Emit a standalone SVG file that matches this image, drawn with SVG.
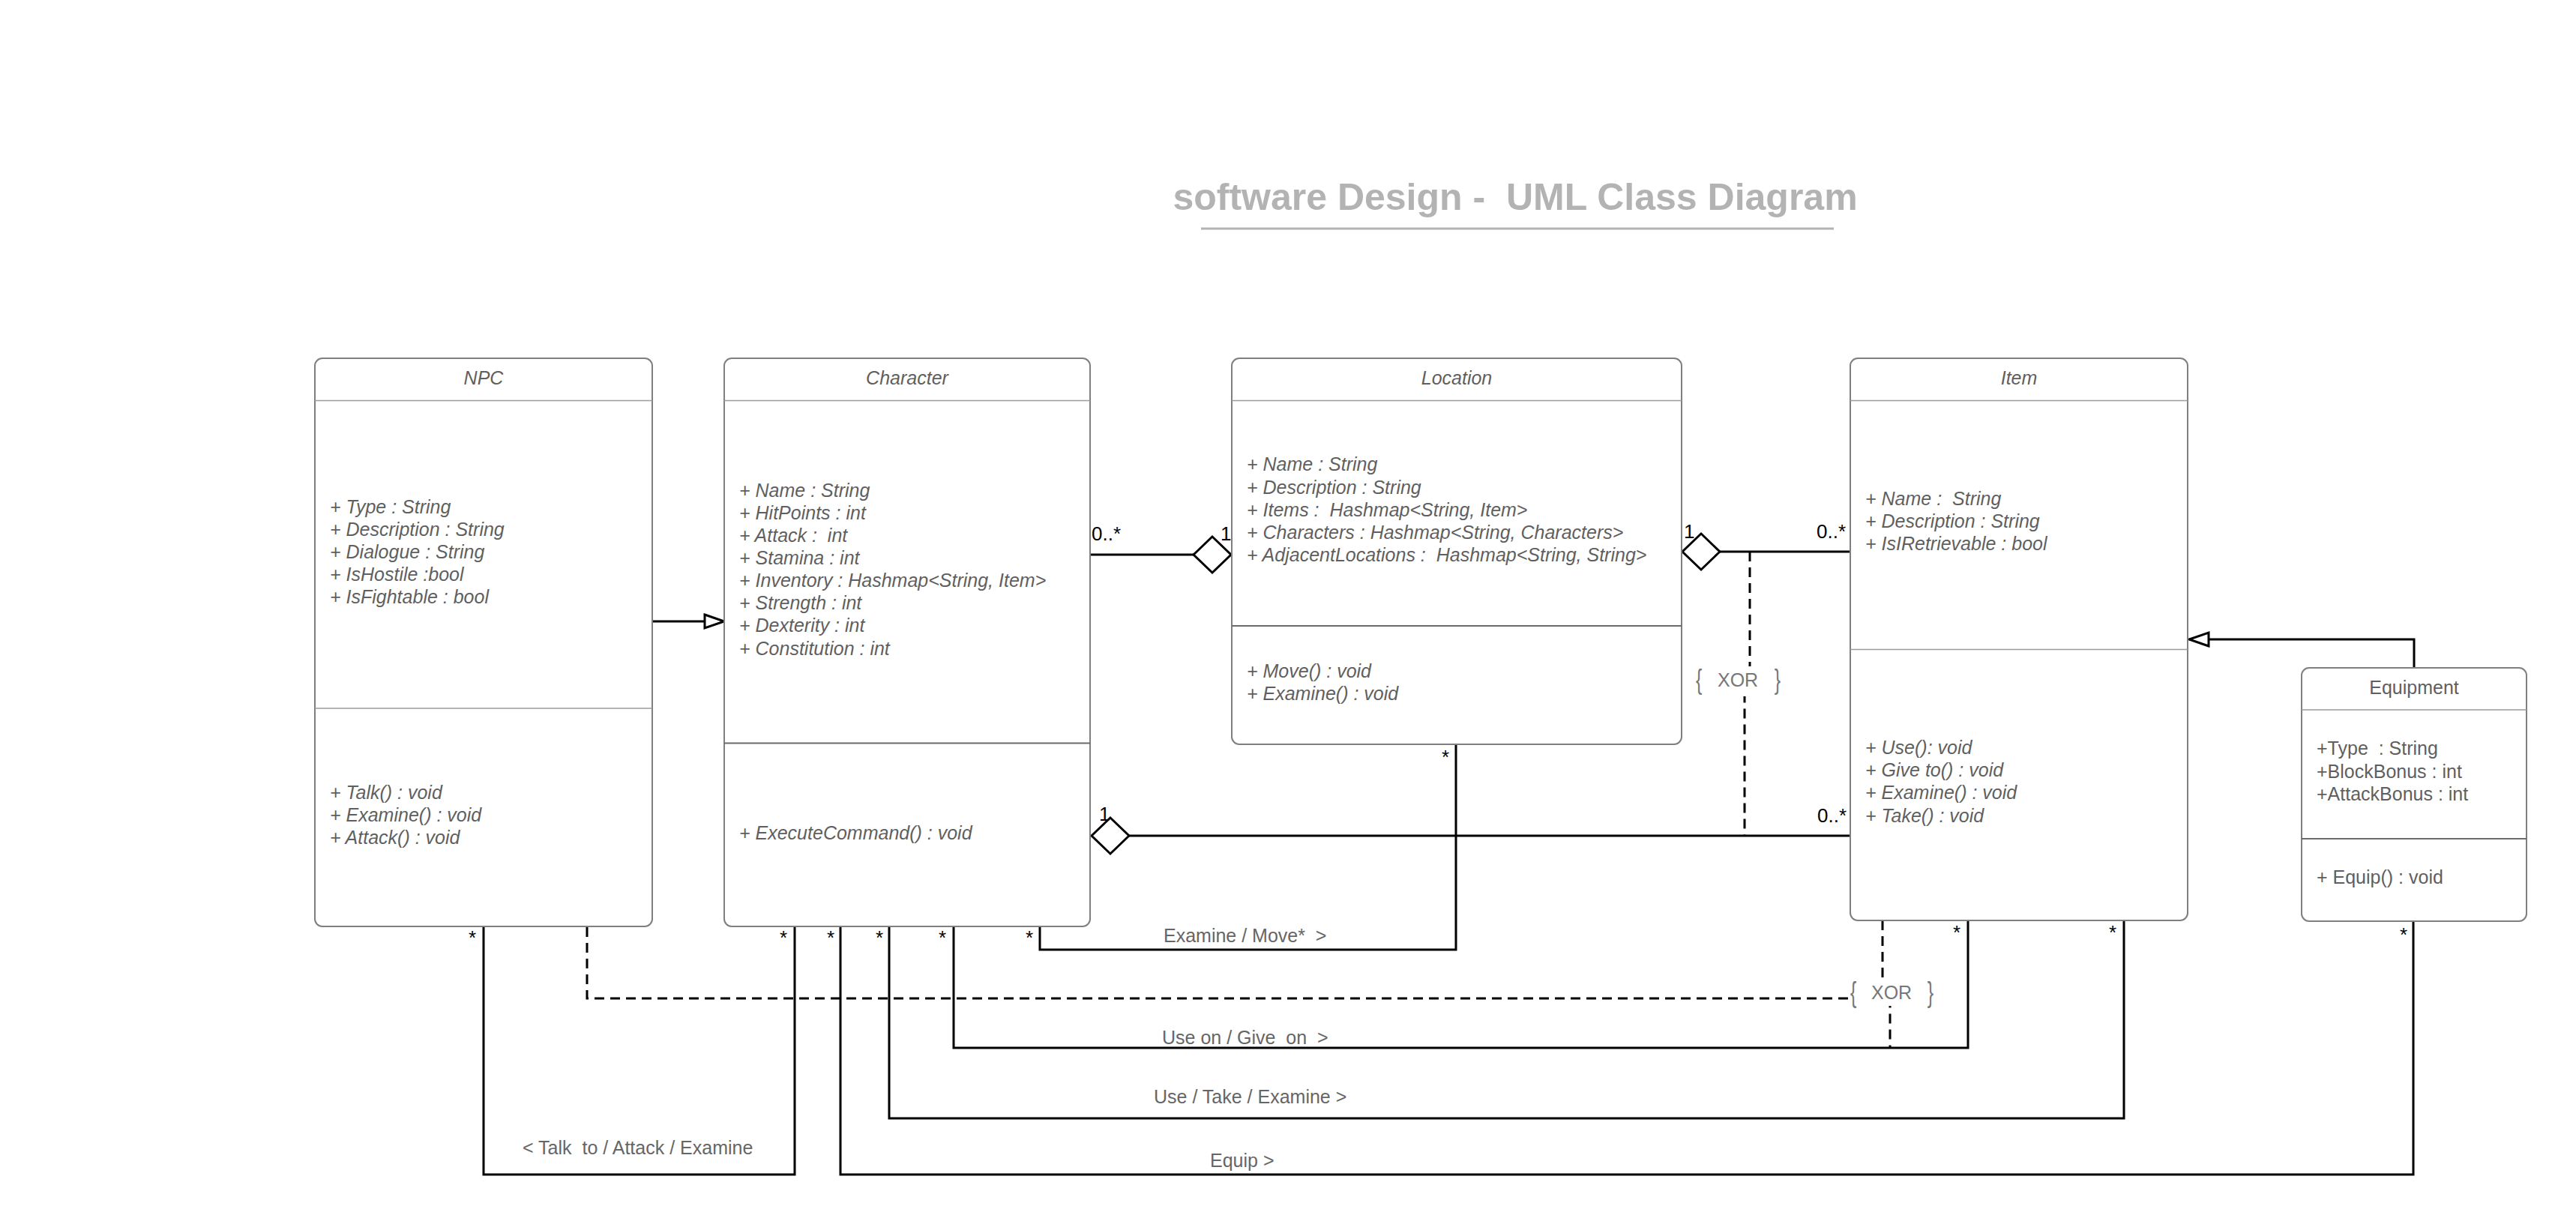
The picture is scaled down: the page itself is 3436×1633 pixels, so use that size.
<svg xmlns="http://www.w3.org/2000/svg" width="3436" height="1633" viewBox="0 0 3436 1633">
<style>
text{font-family:"Liberation Sans",Arial,sans-serif;white-space:pre}
.box{fill:#fff;stroke:#7f7f7f;stroke-width:2}
.d1{stroke:#9a9a9a;stroke-width:1.3}
.d2{stroke:#6a6a6a;stroke-width:2.2}
.t{font-size:25px;fill:#5f5f5f}
.i{font-style:italic}
.hd{text-anchor:middle}
.conn{fill:none;stroke:#000;stroke-width:3}
.dash{stroke-dasharray:13 8}
.m{font-size:26px;fill:#000}
.lbl{font-size:25px;fill:#666}
.xor{font-size:25px;fill:#777}
.title{font-size:50px;font-weight:bold;fill:#b3b3b3;text-anchor:middle}
</style>
<defs>
<marker id="gen" viewBox="0 0 26 18" refX="26" refY="9" markerWidth="26" markerHeight="18" markerUnits="userSpaceOnUse" orient="auto" overflow="visible">
<path d="M0,0 L26,9 L0,18 Z" fill="#fff" stroke="#000" stroke-width="3"/>
</marker>
<marker id="agg" viewBox="0 0 50 48" refX="50" refY="24" markerWidth="50" markerHeight="48" markerUnits="userSpaceOnUse" orient="auto" overflow="visible">
<path d="M0,24 L25,0 L50,24 L25,48 Z" fill="#fff" stroke="#000" stroke-width="3"/>
</marker>
</defs>
<rect width="3436" height="1633" fill="#fff"/>

<g id="title">
<text class="title" x="2021" y="280">software Design -  UML Class Diagram</text>
<line x1="1602" y1="305" x2="2446" y2="305" stroke="#b3b3b3" stroke-width="3"/>
</g>

<g id="connectors">
<path class="conn" d="M870,829 L966,829" marker-end="url(#gen)"/>
<path class="conn" d="M3220,891 L3220,853 L2920,853" marker-end="url(#gen)"/>
<path class="conn" d="M1454,740 L1642,740" marker-end="url(#agg)"/>
<path class="conn" d="M2468,736 L2244,736" marker-end="url(#agg)"/>
<path class="conn" d="M2468,1115 L1456,1115" marker-end="url(#agg)"/>
<path class="conn" d="M1942,993 L1942,1267 L1387,1267 L1387,1237"/>
<path class="conn" d="M645,1237 L645,1567 L1060,1567 L1060,1237"/>
<path class="conn" d="M1121,1237 L1121,1567 L3219,1567 L3219,1229"/>
<path class="conn" d="M1186,1237 L1186,1492 L2833,1492 L2833,1228"/>
<path class="conn" d="M1272,1237 L1272,1398 L2625,1398 L2625,1228"/>
<path class="conn dash" d="M783,1237 L783,1332 L2470,1332"/>
<path class="conn dash" d="M2334,736 L2334,888 L2327,928 L2327,1115"/>
<path class="conn dash" d="M2511,1228 L2511,1305 L2521,1340 L2521,1398"/>
</g>

<g id="xor-top">
<rect x="2258" y="889" width="120" height="40" fill="#fff"/>
<text class="xor" transform="translate(2262,919) scale(1,1.5)">{</text>
<text class="xor" x="2291" y="916">XOR</text>
<text class="xor" transform="translate(2375,919) scale(1,1.5)" text-anchor="end">}</text>
</g>
<g id="xor-bottom">
<rect x="2466" y="1304" width="116" height="38" fill="#fff"/>
<text class="xor" transform="translate(2468,1337) scale(1,1.55)">{</text>
<text class="xor" x="2496" y="1333">XOR</text>
<text class="xor" transform="translate(2579,1337) scale(1,1.55)" text-anchor="end">}</text>
</g>

<g id="labels">
<text class="lbl" x="697" y="1540">&lt; Talk  to / Attack / Examine</text>
<text class="lbl" x="1552" y="1257">Examine / Move*  &gt;</text>
<text class="lbl" x="1550" y="1393">Use on / Give  on  &gt;</text>
<text class="lbl" x="1539" y="1472">Use / Take / Examine &gt;</text>
<text class="lbl" x="1614" y="1557">Equip &gt;</text>
<text class="m" x="1456" y="721">0..*</text>
<text class="m" x="1628" y="721">1</text>
<text class="m" x="2246" y="718">1</text>
<text class="m" x="2423" y="718">0..*</text>
<text class="m" x="1466" y="1095">1</text>
<text class="m" x="2424" y="1097">0..*</text>
<text class="m" x="625" y="1260">*</text>
<text class="m" x="1040" y="1260">*</text>
<text class="m" x="1103" y="1260">*</text>
<text class="m" x="1168" y="1260">*</text>
<text class="m" x="1252" y="1260">*</text>
<text class="m" x="1368" y="1260">*</text>
<text class="m" x="1923" y="1019">*</text>
<text class="m" x="2605" y="1253">*</text>
<text class="m" x="2813" y="1253">*</text>
<text class="m" x="3201" y="1256">*</text>
</g>

<g id="npc">
<rect class="box" x="420" y="478" width="450" height="758" rx="10"/>
<line class="d1" x1="420" y1="534.5" x2="870" y2="534.5"/>
<line class="d1" x1="420" y1="945" x2="870" y2="945"/>
<text class="t i hd" x="645" y="513">NPC</text>
<text class="t i" x="440" y="685">+ Type : String</text>
<text class="t i" x="440" y="715">+ Description : String</text>
<text class="t i" x="440" y="745">+ Dialogue : String</text>
<text class="t i" x="440" y="775">+ IsHostile :bool</text>
<text class="t i" x="440" y="805">+ IsFightable : bool</text>
<text class="t i" x="440" y="1066">+ Talk() : void</text>
<text class="t i" x="440" y="1096">+ Examine() : void</text>
<text class="t i" x="440" y="1126">+ Attack() : void</text>
</g>

<g id="character">
<rect class="box" x="966" y="478" width="488" height="758" rx="10"/>
<line class="d1" x1="966" y1="534.5" x2="1454" y2="534.5"/>
<line class="d2" x1="966" y1="991.5" x2="1454" y2="991.5"/>
<text class="t i hd" x="1210" y="513">Character</text>
<text class="t i" x="986" y="663">+ Name : String</text>
<text class="t i" x="986" y="693">+ HitPoints : int</text>
<text class="t i" x="986" y="723">+ Attack :  int</text>
<text class="t i" x="986" y="753">+ Stamina : int</text>
<text class="t i" x="986" y="783">+ Inventory : Hashmap&lt;String, Item&gt;</text>
<text class="t i" x="986" y="813">+ Strength : int</text>
<text class="t i" x="986" y="843">+ Dexterity : int</text>
<text class="t i" x="986" y="874">+ Constitution : int</text>
<text class="t i" x="986" y="1120">+ ExecuteCommand() : void</text>
</g>

<g id="location">
<rect class="box" x="1643" y="478" width="600" height="515" rx="10"/>
<line class="d1" x1="1643" y1="534.5" x2="2243" y2="534.5"/>
<line class="d2" x1="1643" y1="835" x2="2243" y2="835"/>
<text class="t i hd" x="1943" y="513">Location</text>
<text class="t i" x="1663" y="628">+ Name : String</text>
<text class="t i" x="1663" y="659">+ Description : String</text>
<text class="t i" x="1663" y="689">+ Items :  Hashmap&lt;String, Item&gt;</text>
<text class="t i" x="1663" y="719">+ Characters : Hashmap&lt;String, Characters&gt;</text>
<text class="t i" x="1663" y="749">+ AdjacentLocations :  Hashmap&lt;String, String&gt;</text>
<text class="t i" x="1663" y="904">+ Move() : void</text>
<text class="t i" x="1663" y="934">+ Examine() : void</text>
</g>

<g id="item">
<rect class="box" x="2468" y="478" width="450" height="750" rx="10"/>
<line class="d1" x1="2468" y1="534.5" x2="2918" y2="534.5"/>
<line class="d1" x1="2468" y1="866.5" x2="2918" y2="866.5"/>
<text class="t i hd" x="2693" y="513">Item</text>
<text class="t i" x="2488" y="674">+ Name :  String</text>
<text class="t i" x="2488" y="704">+ Description : String</text>
<text class="t i" x="2488" y="734">+ IsIRetrievable : bool</text>
<text class="t i" x="2488" y="1006">+ Use(): void</text>
<text class="t i" x="2488" y="1036">+ Give to() : void</text>
<text class="t i" x="2488" y="1066">+ Examine() : void</text>
<text class="t i" x="2488" y="1097">+ Take() : void</text>
</g>

<g id="equipment">
<rect class="box" x="3070" y="891" width="300" height="338" rx="10"/>
<line class="d1" x1="3070" y1="947" x2="3370" y2="947"/>
<line class="d2" x1="3070" y1="1119" x2="3370" y2="1119"/>
<text class="t hd" x="3220" y="926">Equipment</text>
<text class="t" x="3090" y="1007">+Type  : String</text>
<text class="t" x="3090" y="1038">+BlockBonus : int</text>
<text class="t" x="3090" y="1068">+AttackBonus : int</text>
<text class="t" x="3090" y="1179">+ Equip() : void</text>
</g>
</svg>
